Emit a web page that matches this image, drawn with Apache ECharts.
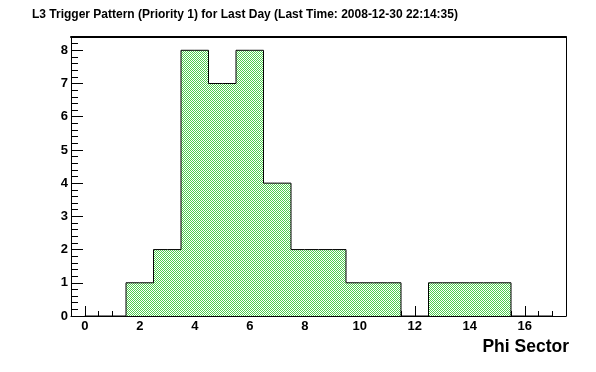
<!DOCTYPE html>
<html>
<head>
<meta charset="utf-8">
<script src="https://cdn.jsdelivr.net/npm/echarts@6/dist/echarts.min.js"></script>
<style>
html,body{margin:0;padding:0;background:#fff;}
#chart{width:596px;height:372px;}
</style>
</head>
<body>
<div id="chart"></div>
<script>
// ---- data ----
const phiSectors = [0, 1, 2, 3, 4, 5, 6, 7, 8, 9, 10, 11, 12, 13, 14, 15, 16, 17];
const counts     = [0, 0, 1, 2, 8, 7, 8, 4, 2, 2, 1, 1, 0, 1, 1, 1, 0, 0];
const xTickLabels = [0, 2, 4, 6, 8, 10, 12, 14, 16];
const yTickLabels = [0, 1, 2, 3, 4, 5, 6, 7, 8];
const titleText = 'L3 Trigger Pattern (Priority 1) for Last Day (Last Time: 2008-12-30 22:14:35)';
const xAxisTitle = 'Phi Sector';

// ---- axis ranges ----
const xMin = -0.5, xMax = 17.5;
const yMin = 0, yMax = 8.4;

// minor tick positions (axis decoration)
const xMinor = [];
for (let v = 0; v <= 17.0001; v += 0.5) xMinor.push(Math.round(v * 10) / 10);
const yMinor = [];
for (let v = 0; v <= 8.40001; v += 0.2) yMinor.push(Math.round(v * 10) / 10);

// fill pattern (ROOT 3001-like checker)
const pc = document.createElement('canvas');
pc.width = 2; pc.height = 2;
const pctx = pc.getContext('2d');
pctx.fillStyle = '#ffffff'; pctx.fillRect(0, 0, 2, 2);
pctx.fillStyle = 'rgb(80,205,80)';
pctx.fillRect(0, 0, 1, 1); pctx.fillRect(1, 1, 1, 1);

const FONT = 'Liberation Sans, Arial, Helvetica, sans-serif';
const chart = echarts.init(document.getElementById('chart'));

chart.setOption({
  animation: false,
  backgroundColor: '#ffffff',
  grid: { left: 71, right: 30, top: 37, bottom: 56, containLabel: false },
  graphic: [
    { type: 'text', left: 32, top: 9,
      style: { text: titleText, font: 'bold 12px ' + FONT, fill: '#000' } },
    { type: 'text', right: 27, top: 338,
      style: { text: xAxisTitle, font: 'bold 17.5px ' + FONT, fill: '#000' } }
  ],
  xAxis: [
    { type: 'value', min: xMin, max: xMax, position: 'bottom',
      axisLine: { show: true, onZero: false, lineStyle: { color: '#000', width: 1 } },
      axisTick: { show: true, inside: true, length: 10, customValues: xTickLabels, lineStyle: { color: '#000', width: 1 } },
      axisLabel: { show: true, customValues: xTickLabels, color: '#000', fontWeight: 'bold', fontSize: 13, fontFamily: FONT, margin: 4 },
      splitLine: { show: false } },
    { type: 'value', min: xMin, max: xMax, position: 'bottom',
      axisLine: { show: false, onZero: false },
      axisTick: { show: true, inside: true, length: 5, customValues: xMinor, lineStyle: { color: '#000', width: 1 } },
      axisLabel: { show: false }, splitLine: { show: false } },
    { type: 'value', min: xMin, max: xMax, position: 'top',
      axisLine: { show: true, onZero: false, lineStyle: { color: '#000', width: 2 } },
      axisTick: { show: false }, axisLabel: { show: false }, splitLine: { show: false } }
  ],
  yAxis: [
    { type: 'value', min: yMin, max: yMax, position: 'left',
      axisLine: { show: true, onZero: false, lineStyle: { color: '#000', width: 1 } },
      axisTick: { show: true, inside: true, length: 12, customValues: yTickLabels, lineStyle: { color: '#000', width: 1 } },
      axisLabel: { show: true, customValues: yTickLabels, color: '#000', fontWeight: 'bold', fontSize: 13, fontFamily: FONT, margin: 3 },
      splitLine: { show: false } },
    { type: 'value', min: yMin, max: yMax, position: 'left',
      axisLine: { show: false, onZero: false },
      axisTick: { show: true, inside: true, length: 7, customValues: yMinor, lineStyle: { color: '#000', width: 1 } },
      axisLabel: { show: false }, splitLine: { show: false } },
    { type: 'value', min: yMin, max: yMax, position: 'right',
      axisLine: { show: true, onZero: false, lineStyle: { color: '#000', width: 1 } },
      axisTick: { show: false }, axisLabel: { show: false }, splitLine: { show: false } }
  ],
  series: [{
    type: 'line',
    xAxisIndex: 0, yAxisIndex: 0,
    step: 'middle',
    showSymbol: false, symbol: 'none',
    data: phiSectors.map((x, i) => [x, counts[i]]),
    lineStyle: { color: '#000', width: 1 },
    areaStyle: { color: { image: pc, repeat: 'repeat' }, opacity: 1 },
    z: 1
  }]
});
</script>
</body>
</html>
